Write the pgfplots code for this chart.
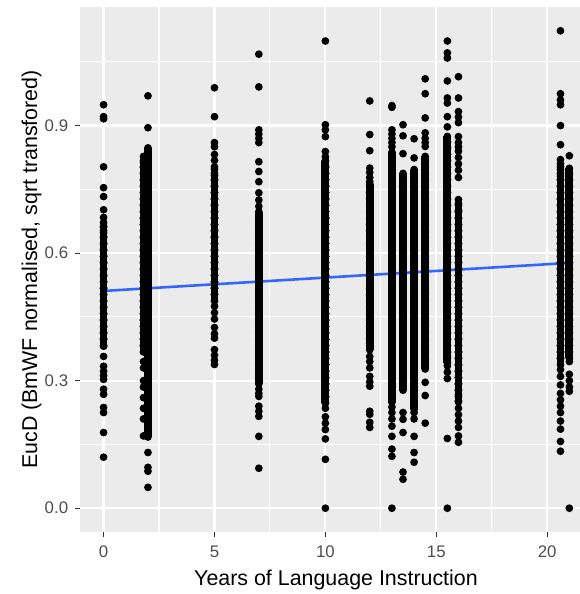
\documentclass[border=0pt]{standalone}
\usepackage{pgfplots}
\pgfplotsset{compat=1.18}
\usepackage{fontspec}
\setmainfont{Liberation Sans}
\definecolor{panel}{HTML}{EBEBEB}
\definecolor{tickcol}{HTML}{333333}
\definecolor{ticklab}{HTML}{4D4D4D}
\definecolor{smoothcol}{HTML}{3366FF}
% ggplot-like filled dot
\pgfdeclareplotmark{ggc}{\pgfsetfillcolor{black}\pgfpathcircle{\pgfpointorigin}{3.9pt}\pgfusepathqfill}
% dot for densely overplotted runs (vertical overlap of neighbouring points)
\pgfdeclareplotmark{ggv}{\pgfsetfillcolor{black}%
 \pgfpathcircle{\pgfpoint{0pt}{3.2pt}}{3.9pt}\pgfusepathqfill
 \pgfpathcircle{\pgfpoint{0pt}{-3.2pt}}{3.9pt}\pgfusepathqfill
 \pgfpathrectangle{\pgfpoint{-3.9pt}{-3.2pt}}{\pgfpoint{7.8pt}{6.4pt}}\pgfusepathqfill}
\pgfplotsset{
 ggo/.style={only marks, mark=ggc, black},
 ggd/.style={only marks, mark=ggv, black}}
\begin{document}
\begin{tikzpicture}
\begin{axis}[
 at={(80.3pt,62pt)}, anchor=south west,
 width=499.7pt, height=525pt, scale only axis,
 xmin=-1.05, xmax=21.48, ymin=-0.056, ymax=1.179,
 axis background/.style={fill=panel},
 axis lines*=left, axis line style={draw=none},
 xtick={0,5,10,15,20}, xticklabels={0,5,10,15,20},
 ytick={0,0.3,0.6,0.9}, yticklabels={0.0,0.3,0.6,0.9},
 minor xtick={2.5,7.5,12.5,17.5}, minor ytick={0.15,0.45,0.75,1.05},
 grid=both,
 major grid style={white, line width=2.2pt},
 minor grid style={white, line width=1.1pt},
 tick align=outside, major tick length=5pt, minor tick length=0pt,
 major tick style={tickcol, line width=1.1pt},
 tick label style={font=\fontsize{16.8}{19}\selectfont, text=ticklab, inner sep=0pt},
 xticklabel style={anchor=base, yshift=-21pt},
 yticklabel style={anchor=east, xshift=-7pt},
]
% ---------- sparse points (outside the overplotted runs) ----------
\addplot[ggo] coordinates {(0,.120)(0,.178)(0,.225)(0,.237)(0,.268)(0,.280)(0,.303)(0,.312)(0,.322)(0,.334)(0,.357)(0,.381)
(0,.662)(0,.672)(0,.684)(0,.702)(0,.733)(0,.754)(0,.803)(0,.916)(0,.921)(0,.949)};
\addplot[ggo] coordinates {(1.8,.170)(1.8,.210)(1.8,.235)(1.8,.260)(1.8,.285)(1.8,.300)(1.8,.330)(1.8,.345)};
\addplot[ggo] coordinates {(2,.049)(2,.087)(2,.096)(2,.131)(2,.895)(2,.970)};
\addplot[ggo] coordinates {(5,.338)(5,.348)(5,.360)(5,.373)(5,.400)(5,.410)(5,.425)(5,.445)(5,.460)(5,.475)
(5,.803)(5,.818)(5,.832)(5,.850)(5,.860)(5,.921)(5,.989)};
\addplot[ggo] coordinates {(7,.094)(7,.169)(7,.216)(7,.228)(7,.240)(7,.263)(7,.270)(7,.280)
(7,.710)(7,.725)(7,.742)(7,.768)(7,.792)(7,.815)(7,.860)(7,.870)(7,.880)(7,.890)(7,.991)(7,1.068)};
\addplot[ggo] coordinates {(10,0)(10,.115)(10,.163)(10,.185)(10,.200)(10,.215)(10,.235)
(10,.827)(10,.839)(10,.874)(10,.890)(10,.902)(10,1.099)};
\addplot[ggo] coordinates {(12,.190)(12,.202)(12,.221)(12,.228)(12,.287)(12,.297)(12,.310)(12,.330)(12,.345)(12,.357)
(12,.768)(12,.778)(12,.790)(12,.800)(12,.841)(12,.879)(12,.958)};
\addplot[ggo] coordinates {(13,0)(13,.122)(13,.139)(13,.169)(13,.193)(13,.210)(13,.225)(13,.238)(13,.249)
(13,.850)(13,.860)(13,.870)(13,.880)(13,.890)(13,.943)(13,.947)};
\addplot[ggo] coordinates {(13.5,.068)(13.5,.085)(13.5,.178)(13.5,.209)(13.5,.225)
(13.5,.834)(13.5,.876)(13.5,.902)};
\addplot[ggo] coordinates {(14,.108)(14,.131)(14,.169)(14,.210)(14,.225)
(14,.824)(14,.869)};
\addplot[ggo] coordinates {(14.5,.200)(14.5,.265)(14.5,.296)
(14.5,.851)(14.5,.860)(14.5,.870)(14.5,.883)(14.5,.918)(14.5,.975)(14.5,1.010)};
\addplot[ggo] coordinates {(15.5,0)(15.5,.164)(15.5,.305)(15.5,.320)(15.5,.335)
(15.5,.897)(15.5,.921)(15.5,.953)(15.5,.965)(15.5,1.005)(15.5,1.059)(15.5,1.071)(15.5,1.099)};
\addplot[ggo] coordinates {(16,.155)(16,.170)(16,.190)(16,.205)(16,.220)(16,.235)(16,.250)
(16,.726)(16,.778)(16,.795)(16,.810)(16,.825)(16,.840)(16,.850)(16,.860)(16,.874)(16,.907)(16,.920)(16,.933)(16,.965)(16,1.015)};
\addplot[ggo] coordinates {(20.6,.134)(20.6,.157)(20.6,.186)(20.6,.205)(20.6,.225)(20.6,.240)(20.6,.255)(20.6,.270)(20.6,.290)(20.6,.310)(20.6,.326)
(20.6,.803)(20.6,.810)(20.6,.820)(20.6,.855)(20.6,.900)(20.6,.949)(20.6,.960)(20.6,.975)(20.6,1.123)};
\addplot[ggo] coordinates {(21,0)(21,.275)(21,.285)(21,.300)(21,.315)(21,.345)(21,.829)};
% ---------- dense, overplotted runs ----------
% (x = 10 run is listed twice: the first pass only primes the mark)
\addplot[ggd] coordinates {(10,.255)(10,.270)(10,.285)(10,.300)(10,.315)(10,.330)(10,.345)(10,.360)(10,.375)(10,.390)(10,.405)(10,.420)(10,.435)(10,.450)(10,.465)(10,.480)(10,.495)(10,.510)(10,.525)(10,.540)(10,.555)(10,.570)(10,.585)(10,.600)(10,.615)(10,.630)(10,.645)(10,.660)(10,.675)(10,.690)(10,.705)(10,.720)(10,.735)(10,.750)(10,.765)(10,.780)(10,.795)(10,.810)};
\addplot[ggd] coordinates {(0,.390)(0,.405)(0,.420)(0,.435)(0,.450)(0,.465)(0,.480)(0,.495)(0,.510)(0,.525)(0,.540)(0,.555)(0,.570)(0,.585)(0,.600)(0,.615)(0,.630)(0,.645)(0,.655)};
\addplot[ggd] coordinates {(1.8,.375)(1.8,.390)(1.8,.405)(1.8,.420)(1.8,.435)(1.8,.450)(1.8,.465)(1.8,.480)(1.8,.495)(1.8,.510)(1.8,.525)(1.8,.540)(1.8,.555)(1.8,.570)(1.8,.585)(1.8,.600)(1.8,.615)(1.8,.630)(1.8,.645)(1.8,.660)(1.8,.675)(1.8,.690)(1.8,.705)(1.8,.720)(1.8,.735)(1.8,.750)(1.8,.765)(1.8,.780)(1.8,.795)(1.8,.810)(1.8,.820)};
\addplot[ggd] coordinates {(2,.175)(2,.180)(2,.195)(2,.210)(2,.225)(2,.240)(2,.255)(2,.270)(2,.285)(2,.300)(2,.315)(2,.330)(2,.345)(2,.360)(2,.375)(2,.390)(2,.405)(2,.420)(2,.435)(2,.450)(2,.465)(2,.480)(2,.495)(2,.510)(2,.525)(2,.540)(2,.555)(2,.570)(2,.585)(2,.600)(2,.615)(2,.630)(2,.645)(2,.660)(2,.675)(2,.690)(2,.705)(2,.720)(2,.735)(2,.750)(2,.765)(2,.780)(2,.795)(2,.810)(2,.825)(2,.840)};
\addplot[ggd] coordinates {(5,.495)(5,.510)(5,.525)(5,.540)(5,.555)(5,.570)(5,.585)(5,.600)(5,.615)(5,.630)(5,.645)(5,.660)(5,.675)(5,.690)(5,.705)(5,.720)(5,.735)(5,.750)(5,.765)(5,.780)(5,.790)};
\addplot[ggd] coordinates {(7,.300)(7,.315)(7,.330)(7,.345)(7,.360)(7,.375)(7,.390)(7,.405)(7,.420)(7,.435)(7,.450)(7,.465)(7,.480)(7,.495)(7,.510)(7,.525)(7,.540)(7,.555)(7,.570)(7,.585)(7,.600)(7,.615)(7,.630)(7,.645)(7,.660)(7,.675)(7,.690)};
\addplot[ggd] coordinates {(10,.255)(10,.270)(10,.285)(10,.300)(10,.315)(10,.330)(10,.345)(10,.360)(10,.375)(10,.390)(10,.405)(10,.420)(10,.435)(10,.450)(10,.465)(10,.480)(10,.495)(10,.510)(10,.525)(10,.540)(10,.555)(10,.570)(10,.585)(10,.600)(10,.615)(10,.630)(10,.645)(10,.660)(10,.675)(10,.690)(10,.705)(10,.720)(10,.735)(10,.750)(10,.765)(10,.780)(10,.795)(10,.810)};
\addplot[ggd] coordinates {(12,.380)(12,.390)(12,.405)(12,.420)(12,.435)(12,.450)(12,.465)(12,.480)(12,.495)(12,.510)(12,.525)(12,.540)(12,.555)(12,.570)(12,.585)(12,.600)(12,.615)(12,.630)(12,.645)(12,.660)(12,.675)(12,.690)(12,.705)(12,.720)(12,.735)(12,.750)(12,.755)};
\addplot[ggd] coordinates {(13,.260)(13,.270)(13,.285)(13,.300)(13,.315)(13,.330)(13,.345)(13,.360)(13,.375)(13,.390)(13,.405)(13,.420)(13,.435)(13,.450)(13,.465)(13,.480)(13,.495)(13,.510)(13,.525)(13,.540)(13,.555)(13,.570)(13,.585)(13,.600)(13,.615)(13,.630)(13,.645)(13,.660)(13,.675)(13,.690)(13,.705)(13,.720)(13,.735)(13,.750)(13,.765)(13,.780)(13,.795)(13,.810)(13,.825)(13,.830)};
\addplot[ggd] coordinates {(13.5,.285)(13.5,.300)(13.5,.315)(13.5,.330)(13.5,.345)(13.5,.360)(13.5,.375)(13.5,.390)(13.5,.405)(13.5,.420)(13.5,.435)(13.5,.450)(13.5,.465)(13.5,.480)(13.5,.495)(13.5,.510)(13.5,.525)(13.5,.540)(13.5,.555)(13.5,.570)(13.5,.585)(13.5,.600)(13.5,.615)(13.5,.630)(13.5,.645)(13.5,.660)(13.5,.675)(13.5,.690)(13.5,.705)(13.5,.720)(13.5,.735)(13.5,.750)(13.5,.765)(13.5,.780)};
\addplot[ggd] coordinates {(14,.240)(14,.255)(14,.270)(14,.285)(14,.300)(14,.315)(14,.330)(14,.345)(14,.360)(14,.375)(14,.390)(14,.405)(14,.420)(14,.435)(14,.450)(14,.465)(14,.480)(14,.495)(14,.510)(14,.525)(14,.540)(14,.555)(14,.570)(14,.585)(14,.600)(14,.615)(14,.630)(14,.645)(14,.660)(14,.675)(14,.690)(14,.705)(14,.720)(14,.735)(14,.750)(14,.765)(14,.780)(14,.789)};
\addplot[ggd] coordinates {(14.5,.335)(14.5,.345)(14.5,.360)(14.5,.375)(14.5,.390)(14.5,.405)(14.5,.420)(14.5,.435)(14.5,.450)(14.5,.465)(14.5,.480)(14.5,.495)(14.5,.510)(14.5,.525)(14.5,.540)(14.5,.555)(14.5,.570)(14.5,.585)(14.5,.600)(14.5,.615)(14.5,.630)(14.5,.645)(14.5,.660)(14.5,.675)(14.5,.690)(14.5,.705)(14.5,.720)(14.5,.735)(14.5,.750)(14.5,.765)(14.5,.780)(14.5,.795)(14.5,.810)(14.5,.820)};
\addplot[ggd] coordinates {(15.5,.350)(15.5,.360)(15.5,.375)(15.5,.390)(15.5,.405)(15.5,.420)(15.5,.435)(15.5,.450)(15.5,.465)(15.5,.480)(15.5,.495)(15.5,.510)(15.5,.525)(15.5,.540)(15.5,.555)(15.5,.570)(15.5,.585)(15.5,.600)(15.5,.615)(15.5,.630)(15.5,.645)(15.5,.660)(15.5,.675)(15.5,.690)(15.5,.705)(15.5,.720)(15.5,.735)(15.5,.750)(15.5,.765)(15.5,.780)(15.5,.795)(15.5,.810)(15.5,.825)(15.5,.840)(15.5,.855)(15.5,.867)};
\addplot[ggd] coordinates {(16,.260)(16,.270)(16,.285)(16,.300)(16,.315)(16,.330)(16,.345)(16,.360)(16,.375)(16,.390)(16,.405)(16,.420)(16,.435)(16,.450)(16,.465)(16,.480)(16,.495)(16,.510)(16,.525)(16,.540)(16,.555)(16,.570)(16,.585)(16,.600)(16,.615)(16,.630)(16,.645)(16,.660)(16,.675)(16,.690)(16,.705)(16,.709)};
\addplot[ggd] coordinates {(20.6,.345)(20.6,.360)(20.6,.375)(20.6,.390)(20.6,.405)(20.6,.420)(20.6,.435)(20.6,.450)(20.6,.465)(20.6,.480)(20.6,.495)(20.6,.510)(20.6,.525)(20.6,.540)(20.6,.555)(20.6,.570)(20.6,.585)(20.6,.600)(20.6,.615)(20.6,.630)(20.6,.645)(20.6,.660)(20.6,.675)(20.6,.690)(20.6,.705)(20.6,.720)(20.6,.735)(20.6,.750)(20.6,.765)(20.6,.780)(20.6,.789)};
\addplot[ggd] coordinates {(21,.360)(21,.375)(21,.390)(21,.405)(21,.420)(21,.435)(21,.450)(21,.465)(21,.480)(21,.495)(21,.510)(21,.525)(21,.540)(21,.555)(21,.570)(21,.585)(21,.600)(21,.615)(21,.630)(21,.645)(21,.660)(21,.675)(21,.690)(21,.705)(21,.720)(21,.735)(21,.750)(21,.765)(21,.780)(21,.792)};
% linear fit
\addplot[smoothcol, line width=2.6pt] coordinates {(0,0.511)(21,0.577)};
\end{axis}
\node[anchor=base, font=\fontsize{21.4}{24}\selectfont] at (336pt,9pt) {Years of Language Instruction};
\node[rotate=90, anchor=base, font=\fontsize{21.4}{24}\selectfont] at (37pt,324.5pt) {EucD (BmWF normalised, sqrt transfored)};
\pgfresetboundingbox
\path[use as bounding box] (0pt,0pt) rectangle (580pt,594pt);
\end{tikzpicture}
\end{document}
